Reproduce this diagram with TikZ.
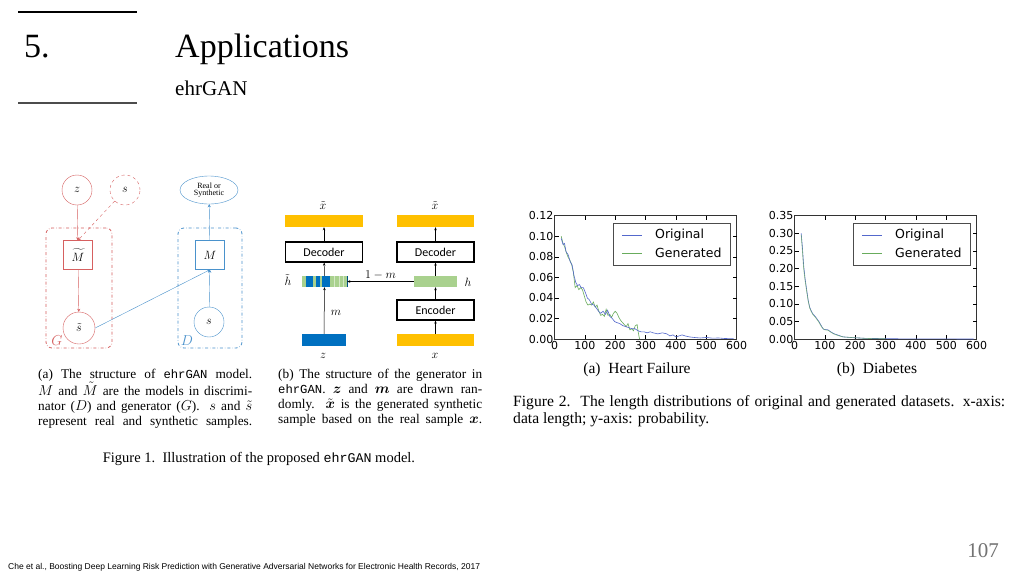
\documentclass[tikz,border=0pt]{standalone}
\usepackage{amsmath}
\usepackage{fontspec}
\setmainfont{Liberation Serif}
\setmonofont[Scale=0.92]{Liberation Mono}
\newfontfamily\plotfont{DejaVu Sans}
\newfontfamily\boxfont{Carlito}
\newfontfamily\footfont{Liberation Sans}
\usetikzlibrary{arrows.meta,shapes.geometric}

\definecolor{gred}{RGB}{214,96,96}
\definecolor{dblue}{RGB}{74,146,204}
\definecolor{ehryellow}{RGB}{255,192,0}
\definecolor{ehrgreen}{RGB}{169,209,142}
\definecolor{ehrblue}{RGB}{0,112,192}
\definecolor{origblue}{RGB}{84,104,204}
\definecolor{gengreen}{RGB}{104,172,92}
\newcommand{\fsz}[1]{\fontsize{#1}{#1}\selectfont}

\tikzset{
  garr/.style={-{Stealth[length=3pt,width=3pt]},gred},
  darr/.style={-{Stealth[length=3pt,width=3pt]},dblue},
  karr/.style={-{Stealth[length=3pt,width=2.5pt]},black,line width=0.5pt},
  gcirc/.style={circle,draw=gred,minimum size=30pt,inner sep=0pt,font=\fsz{13}},
  dcirc/.style={circle,draw=dblue,minimum size=30pt,inner sep=0pt,font=\fsz{13}},
  gframe/.style={draw=gred,dash dot,rounded corners=6pt,line width=0.8pt,minimum width=66pt,minimum height=120pt,inner sep=0pt},
  dframe/.style={draw=dblue,dash dot,rounded corners=6pt,line width=0.8pt,minimum width=64pt,minimum height=120pt,inner sep=0pt},
  codec/.style={draw,line width=1.3pt,minimum width=77pt,minimum height=20pt,inner sep=0pt,font=\boxfont\fsz{12}},
  vecbar/.style={minimum height=12pt,inner sep=0pt},
  tick/.style={font=\plotfont\fsz{11},inner sep=1pt},
  legtext/.style={font=\plotfont\fsz{12.5},anchor=west,inner sep=0pt},
  origline/.style={origblue,line width=0.6pt},
  genline/.style={gengreen,line width=0.6pt},
  capfont/.style={font=\fontsize{13.3}{15}\selectfont,inner sep=0pt,align=left}
}

\begin{document}
\begin{tikzpicture}[x=1pt,y=-1pt]
\useasboundingbox[fill=white] (0,0) rectangle (1024,576);

% slide header
\draw[line width=2pt] (18,12) -- (137,12);
\draw[line width=1.2pt,black!70] (18,103) -- (137,103);
\node[anchor=base west,inner sep=0pt,font=\fsz{34}] (secnum) at (24,57) {5.};
\node[anchor=base west,inner sep=0pt,font=\fsz{34}] (title) at (175,57) {Applications};
\node[anchor=base west,inner sep=0pt,font=\fsz{21}] (subtitle) at (175,95) {ehrGAN};

% figure 1 (a)
\node[gframe] (gbox) at (79,288) {};
\node[dframe] (dbox) at (210,288) {};
\node[gcirc] (z) at (77,190) {$z$};
\node[gcirc,dashed] (sfake) at (125,190) {$s$};
\node[draw=gred,minimum size=29pt,inner sep=0pt,font=\fsz{12}] (Mt) at (78,255) {$\widetilde{M}$};
\node[gcirc,minimum size=32pt] (st) at (79,328) {$\tilde{s}$};
\node[font=\fsz{15},text=gred] (glabel) at (57,341) {$G$};
\node[ellipse,draw=dblue,minimum width=58pt,minimum height=28pt,inner sep=0pt,align=center,font=\fsz{8}] (real) at (209,190) {Real or\\[-1pt]Synthetic};
\node[draw=dblue,minimum size=29pt,inner sep=0pt,font=\fsz{12}] (M) at (210,255) {$M$};
\node[dcirc] (s) at (209,322) {$s$};
\node[font=\fsz{15},text=dblue] (dlabel) at (187,341) {$D$};
\draw[garr] (z) -- (Mt);
\draw[garr,dashed] (sfake) -- (Mt.north);
\draw[garr] (Mt) -- (st);
\draw[darr] (st.east) -- (M.south);
\draw[darr] (s) -- (M);
\draw[darr] (M) -- (real);

% figure 1 (b)
\node[vecbar,fill=ehryellow,minimum width=78pt] (ytl) at (324,221) {};
\node[codec] (decl) at (324,252) {Decoder};
\node[vecbar,fill=ehrgreen,minimum width=45pt,minimum height=11pt] (htbar) at (324.5,281.5) {};
\fill[ehrblue] ([xshift=4pt]htbar.south west) rectangle ([xshift=11pt]htbar.north west);
\fill[ehrblue] ([xshift=14pt]htbar.south west) rectangle ([xshift=18pt]htbar.north west);
\fill[ehrblue] ([xshift=20pt]htbar.south west) rectangle ([xshift=28pt]htbar.north west);
\foreach \o in {32,37,41}
  \fill[ehrgreen!50] ([xshift=\o pt]htbar.south west) rectangle ([xshift=\o pt+1pt]htbar.north west);
\draw[ehrblue!70!black,line width=0.8pt] (htbar.south east) -- (htbar.north east);
\node[vecbar,fill=ehrblue,minimum width=44pt] (zbar) at (324,340) {};
\node[font=\fsz{13}] (xtl) at (323,206) {$\tilde{x}$};
\node[font=\fsz{13}] (htl) at (288,280) {$\tilde{h}$};
\node[font=\fsz{13}] (zl) at (323,356) {$z$};
\node[font=\fsz{13}] (ml) at (336,313) {$m$};
\node[vecbar,fill=ehryellow,minimum width=77pt] (ytr) at (435.5,221) {};
\node[codec] (decr) at (435.5,252) {Decoder};
\node[vecbar,fill=ehrgreen,minimum width=43pt,minimum height=11pt] (hbar) at (435.5,281.5) {};
\node[codec] (enc) at (435.5,310) {Encoder};
\node[vecbar,fill=ehryellow,minimum width=77pt] (xbar) at (435.5,340) {};
\node[font=\fsz{13}] (xtr) at (435,206) {$\tilde{x}$};
\node[font=\fsz{13}] (hl) at (468,282) {$h$};
\node[font=\fsz{13}] (xl) at (435,356) {$x$};
\draw[karr] (zbar) -- (htbar);
\draw[karr] (htbar) -- (decl);
\draw[karr] (decl) -- (ytl);
\draw[karr] (xbar) -- (enc);
\draw[karr] (enc) -- (hbar);
\draw[karr] (hbar) -- (decr);
\draw[karr] (decr) -- (ytr);
\draw[karr] (hbar) -- node[above,font=\fsz{13},inner sep=2pt] (onem) {$1-m$} (htbar);

% figure 1 captions
\node[capfont,anchor=north west] (capa) at (38,369) {%
\makebox[214pt][s]{(a) The structure of \texttt{ehrGAN} model.}\\
\makebox[214pt][s]{$M$ and $\tilde{M}$ are the models in discrimi-}\\
\makebox[214pt][s]{nator ($D$) and generator ($G$). $s$ and $\tilde{s}$}\\
\makebox[214pt][s]{represent real and synthetic samples.}};
\node[capfont,anchor=north west] (capb) at (278,369) {%
\makebox[204pt][s]{(b) The structure of the generator in}\\
\makebox[204pt][s]{\texttt{ehrGAN}. $\boldsymbol{z}$ and $\boldsymbol{m}$ are drawn ran-}\\
\makebox[204pt][s]{domly. $\tilde{\boldsymbol{x}}$ is the generated synthetic}\\
\makebox[204pt][s]{sample based on the real sample $\boldsymbol{x}$.}};
\node[font=\fsz{14.5}] (fig1cap) at (259,459) {Figure 1.\ \ Illustration of the proposed \texttt{ehrGAN} model.};

% figure 2 (a) heart failure
\begin{scope}[shift={(554.5,339)},x=0.3037pt,y=1027.5pt]
\draw[black!80,line width=0.5pt] (0,0) rectangle (600,0.12);
\foreach \v in {100,200,...,500} {
  \draw[line width=0.4pt] (\v,0) -- ++(0,4pt);
  \draw[line width=0.4pt] (\v,0.12) -- ++(0,-4pt);
}
\foreach \v in {0.02,0.04,...,0.1} {
  \draw[line width=0.4pt] (0,\v) -- ++(4pt,0);
  \draw[line width=0.4pt] (600,\v) -- ++(-4pt,0);
}
\foreach \v/\t [count=\i] in {0/0.00,0.02/0.02,0.04/0.04,0.06/0.06,0.08/0.08,0.1/0.10,0.12/0.12}
  \node[tick,anchor=east] (hfy\i) at (0,\v) {\t};
\foreach \v [count=\i] in {0,100,...,600}
  \node[tick,anchor=north,yshift=-1pt] (hfx\i) at (\v,0) {\v};
\draw[genline] plot coordinates {(22,0.100) (28,0.093) (33,0.090) (38,0.085) (44,0.080) (50,0.077) (56,0.073) (62,0.065) (68,0.050) (74,0.052) (80,0.048) (86,0.050) (92,0.048) (98,0.042) (104,0.036) (110,0.033) (116,0.034) (122,0.033) (128,0.036) (134,0.031) (140,0.033) (146,0.027) (152,0.023) (158,0.024) (164,0.022) (170,0.029) (176,0.023) (182,0.024) (188,0.021) (194,0.025) (200,0.027) (206,0.025) (212,0.021) (218,0.018) (224,0.016) (230,0.014) (236,0.012) (242,0.015) (248,0.009) (254,0.010) (260,0.008) (266,0.013) (272,0.014) (276,0.006) (280,0.000)};
\draw[origline] plot coordinates {(22,0.098) (28,0.092) (33,0.093) (38,0.085) (45,0.082) (52,0.075) (58,0.072) (64,0.062) (70,0.055) (76,0.052) (82,0.053) (88,0.050) (95,0.050) (102,0.045) (108,0.040) (115,0.038) (122,0.034) (130,0.033) (138,0.030) (145,0.027) (152,0.025) (160,0.027) (168,0.024) (175,0.028) (182,0.022) (190,0.020) (198,0.017) (205,0.016) (215,0.015) (225,0.013) (235,0.012) (245,0.011) (255,0.010) (265,0.010) (275,0.008) (285,0.007) (295,0.007) (305,0.006) (315,0.007) (325,0.006) (340,0.005) (355,0.006) (370,0.005) (380,0.003) (390,0.004) (400,0.002) (410,0.003) (420,0.004) (430,0.003) (445,0.002) (460,0.0015) (480,0.001) (500,0.0015) (520,0.0008) (540,0.001) (560,0.0005) (590,0.0003)};
\end{scope}
\node[draw=black!70,line width=0.5pt,fill=white,minimum width=117pt,minimum height=42pt,inner sep=0pt] (hfleg) at (671.5,244) {};
\draw[origline] (622,235) -- (642,235);
\draw[genline] (622,253) -- (642,253);
\node[legtext] (hforig) at (655,235) {Original};
\node[legtext] (hfgen) at (655,253) {Generated};
\node[font=\fsz{15.5}] (hfcap) at (637,370) {(a)\ \ Heart Failure};

% figure 2 (b) diabetes
\begin{scope}[shift={(794.5,339)},x=0.3037pt,y=352.3pt]
\draw[black!80,line width=0.5pt] (0,0) rectangle (600,0.35);
\foreach \v in {100,200,...,500} {
  \draw[line width=0.4pt] (\v,0) -- ++(0,4pt);
  \draw[line width=0.4pt] (\v,0.35) -- ++(0,-4pt);
}
\foreach \v in {0.05,0.1,...,0.31} {
  \draw[line width=0.4pt] (0,\v) -- ++(4pt,0);
  \draw[line width=0.4pt] (600,\v) -- ++(-4pt,0);
}
\foreach \v/\t [count=\i] in {0/0.00,0.05/0.05,0.1/0.10,0.15/0.15,0.2/0.20,0.25/0.25,0.3/0.30,0.35/0.35}
  \node[tick,anchor=east] (dby\i) at (0,\v) {\t};
\foreach \v [count=\i] in {0,100,...,600}
  \node[tick,anchor=north,yshift=-1pt] (dbx\i) at (\v,0) {\v};
\draw[origline] plot coordinates {(22,0.300) (26,0.26) (30,0.21) (35,0.17) (40,0.14) (45,0.11) (50,0.09) (55,0.08) (60,0.072) (70,0.062) (80,0.05) (90,0.035) (95,0.028) (100,0.027) (110,0.026) (120,0.02) (130,0.015) (140,0.012) (150,0.009) (160,0.006) (175,0.005) (190,0.004) (210,0.003) (230,0.002) (260,0.0015) (300,0.001) (350,0.0005) (400,0.0003) (500,0.0002) (590,0.0001)};
\draw[genline,opacity=0.7] plot coordinates {(22,0.295) (26,0.25) (30,0.2) (35,0.165) (40,0.135) (45,0.108) (50,0.088) (55,0.078) (60,0.07) (70,0.06) (80,0.048) (90,0.033) (95,0.029) (100,0.026) (110,0.025) (120,0.019) (130,0.014) (140,0.011) (150,0.008) (160,0.006) (175,0.005) (190,0.004) (210,0.003) (230,0.002) (260,0.001) (300,0.0008)};
\end{scope}
\node[draw=black!70,line width=0.5pt,fill=white,minimum width=117pt,minimum height=42pt,inner sep=0pt] (dbleg) at (911.5,244) {};
\draw[origline] (862,235) -- (882,235);
\draw[genline] (862,253) -- (882,253);
\node[legtext] (dborig) at (895,235) {Original};
\node[legtext] (dbgen) at (895,253) {Generated};
\node[font=\fsz{15.5}] (dbcap) at (877,370) {(b)\ \ Diabetes};

% figure 2 caption
\node[font=\fontsize{15.6}{17.5}\selectfont,inner sep=0pt,align=left,anchor=north west] (fig2cap) at (513,395) {%
\makebox[492pt][s]{Figure 2.\ \ The length distributions of original and generated datasets. x-axis:}\\
data length; y-axis: probability.};

% footer
\node[anchor=base west,inner sep=0pt,font=\footfont\fsz{8.5}] (cite) at (8,569) {Che et al., Boosting Deep Learning Risk Prediction with Generative Adversarial Networks for Electronic Health Records, 2017};
\node[anchor=base east,inner sep=0pt,font=\fsz{21},text=black!55] (pageno) at (999,557) {107};
\end{tikzpicture}
\end{document}
